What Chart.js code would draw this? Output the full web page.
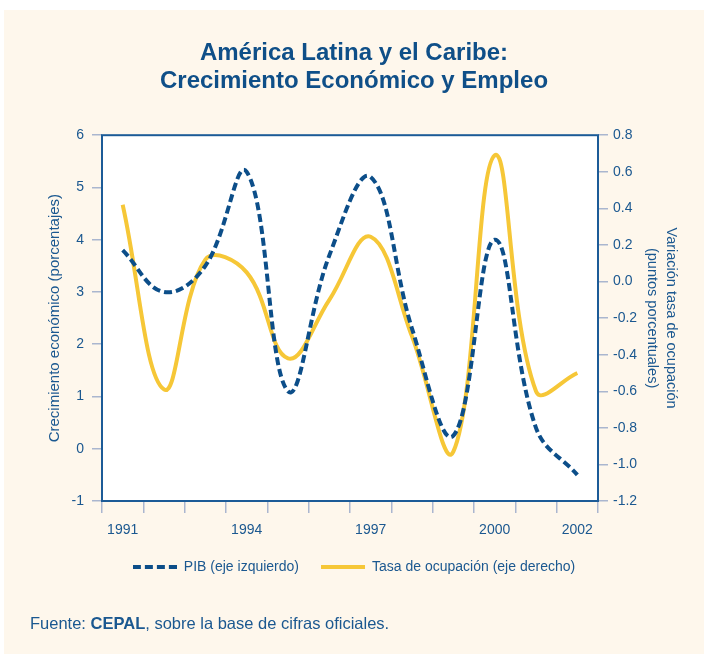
<!DOCTYPE html>
<html>
<head>
<meta charset="utf-8">
<script src="https://cdn.jsdelivr.net/npm/chart.js@4.4.0/dist/chart.umd.min.js"></script>
<style>
html, body { margin: 0; padding: 0; background: #ffffff; }
canvas { display: block; }
</style>
</head>
<body>
<canvas id="chart" width="704" height="654"></canvas>
<script>
const YEARS = ['1991', '1992', '1993', '1994', '1995', '1996', '1997', '1998', '1999', '2000', '2001', '2002'];
const SHOWN_YEARS = ['1991', '1994', '1997', '2000', '2002'];
const PIB = [3.8, 3.0, 3.5, 5.3, 1.1, 3.7, 5.2, 2.3, 0.25, 4.0, 0.4, -0.5];
const EMPLEO = [0.42, -0.59, 0.12, 0.05, -0.42, -0.1, 0.245, -0.3, -0.93, 0.69, -0.6, -0.5];
const TITLE = ['América Latina y el Caribe:', 'Crecimiento Económico y Empleo'];
const LEFT_TITLE = 'Crecimiento económico (porcentajes)';
const RIGHT_TITLE = ['Variación tasa de ocupación', '(puntos porcentuales)'];
const SOURCE = [['Fuente: ', false], ['CEPAL', true], [', sobre la base de cifras oficiales.', false]];

const CREAM = '#fef7ec';
const TEXT = '#1b5890';
const TITLE_COLOR = '#0f4f88';
const BLUE = '#0c4e89';
const YELLOW = '#f6c737';
const TICK = '#aab6cf';
const FRAME = '#1c5b97';
const FONT = '"Liberation Sans", Arial, sans-serif';

Chart.defaults.font.family = FONT;
Chart.defaults.color = TEXT;

// muestra discontinua para la leyenda del PIB
function dashedSample(color) {
	const c = document.createElement('canvas');
	c.width = 44;
	c.height = 4;
	const g = c.getContext('2d');
	g.fillStyle = color;
	for (let x = 0; x < 44; x += 12) {
		g.fillRect(x, 0, 8, 4);
	}
	return c;
}

// fondo crema, area blanca, marco y fuente
const framePlugin = {
	id: 'frame',
	beforeDraw(chart) {
		const ctx = chart.ctx;
		const a = chart.chartArea;
		ctx.save();
		ctx.fillStyle = CREAM;
		ctx.fillRect(4, 10, chart.width - 4, chart.height - 10);
		ctx.fillStyle = '#ffffff';
		ctx.fillRect(a.left, a.top, a.right - a.left, a.bottom - a.top);
		ctx.restore();
	},
	beforeDatasetsDraw(chart) {
		const ctx = chart.ctx;
		const a = chart.chartArea;
		ctx.save();
		ctx.strokeStyle = FRAME;
		ctx.lineWidth = 2;
		ctx.strokeRect(a.left, a.top, a.right - a.left, a.bottom - a.top);
		ctx.restore();
	},
	afterDraw(chart) {
		const ctx = chart.ctx;
		ctx.save();
		ctx.fillStyle = TEXT;
		ctx.textBaseline = 'alphabetic';
		let x = 30;
		SOURCE.forEach(([txt, bold]) => {
			ctx.font = (bold ? 'bold ' : '') + '16.5px ' + FONT;
			ctx.fillText(txt, x, 629);
			x += ctx.measureText(txt).width;
		});
		ctx.restore();
	},
};

const ctx = document.querySelector('#chart').getContext('2d');

const chart = new Chart(ctx, {
	type: 'line',
	data: {
		labels: YEARS,
		datasets: [
			{
				label: 'PIB (eje izquierdo)',
				data: PIB,
				yAxisID: 'y',
				borderColor: BLUE,
				backgroundColor: BLUE,
				borderWidth: 4,
				borderDash: [8, 4],
				pointRadius: 0,
				pointStyle: dashedSample(BLUE),
				tension: 0.4,
				fill: false,
			},
			{
				label: 'Tasa de ocupación (eje derecho)',
				data: EMPLEO,
				yAxisID: 'y1',
				borderColor: YELLOW,
				backgroundColor: YELLOW,
				borderWidth: 4,
				pointRadius: 0,
				pointStyle: 'line',
				tension: 0.4,
				fill: false,
			},
		],
	},
	options: {
		responsive: false,
		animation: false,
		layout: {
			padding: { top: 10, left: 4, right: 0, bottom: 70 },
		},
		scales: {
			x: {
				type: 'category',
				offset: true,
				grid: {
					offset: true,
					drawOnChartArea: false,
					color: TICK,
					lineWidth: 1.5,
					tickLength: 12,
				},
				border: { display: false },
				ticks: {
					autoSkip: false,
					maxRotation: 0,
					padding: 9,
					color: TEXT,
					font: { size: 14 },
					callback(value) {
						const label = this.getLabelForValue(value);
						return SHOWN_YEARS.includes(label) ? label : '';
					},
				},
				afterFit(scale) {
					scale.height = 37;
				},
			},
			y: {
				position: 'left',
				min: -1,
				max: 6,
				ticks: {
					stepSize: 1,
					padding: 8,
					color: TEXT,
					font: { size: 14 },
				},
				grid: {
					drawOnChartArea: false,
					color: TICK,
					lineWidth: 1.5,
					tickLength: 10,
				},
				border: { display: false },
				title: {
					display: true,
					text: LEFT_TITLE,
					color: TEXT,
					font: { size: 15 },
					padding: { top: 42, bottom: 0 },
				},
				afterFit(scale) {
					scale.width = 98;
				},
			},
			y1: {
				position: 'right',
				min: -1.2,
				max: 0.8,
				ticks: {
					stepSize: 0.2,
					padding: 5,
					color: TEXT,
					font: { size: 14 },
					callback: v => Number(v).toFixed(1),
				},
				grid: {
					drawOnChartArea: false,
					color: TICK,
					lineWidth: 1.5,
					tickLength: 10,
				},
				border: { display: false },
				title: {
					display: true,
					text: RIGHT_TITLE,
					color: TEXT,
					font: { size: 14.5, lineHeight: 1.3 },
					padding: { top: 24, bottom: 0 },
				},
				afterFit(scale) {
					scale.width = 106;
				},
			},
		},
		plugins: {
			title: {
				display: true,
				text: TITLE,
				color: TITLE_COLOR,
				font: { size: 24, weight: 'bold', lineHeight: 1.15 },
				padding: { top: 30, bottom: 40 },
			},
			legend: {
				position: 'bottom',
				labels: {
					usePointStyle: true,
					pointStyleWidth: 44,
					padding: 22,
					color: TEXT,
					font: { size: 14 },
				},
			},
			tooltip: { enabled: false },
		},
	},
	plugins: [framePlugin],
});
</script>
</body>
</html>
